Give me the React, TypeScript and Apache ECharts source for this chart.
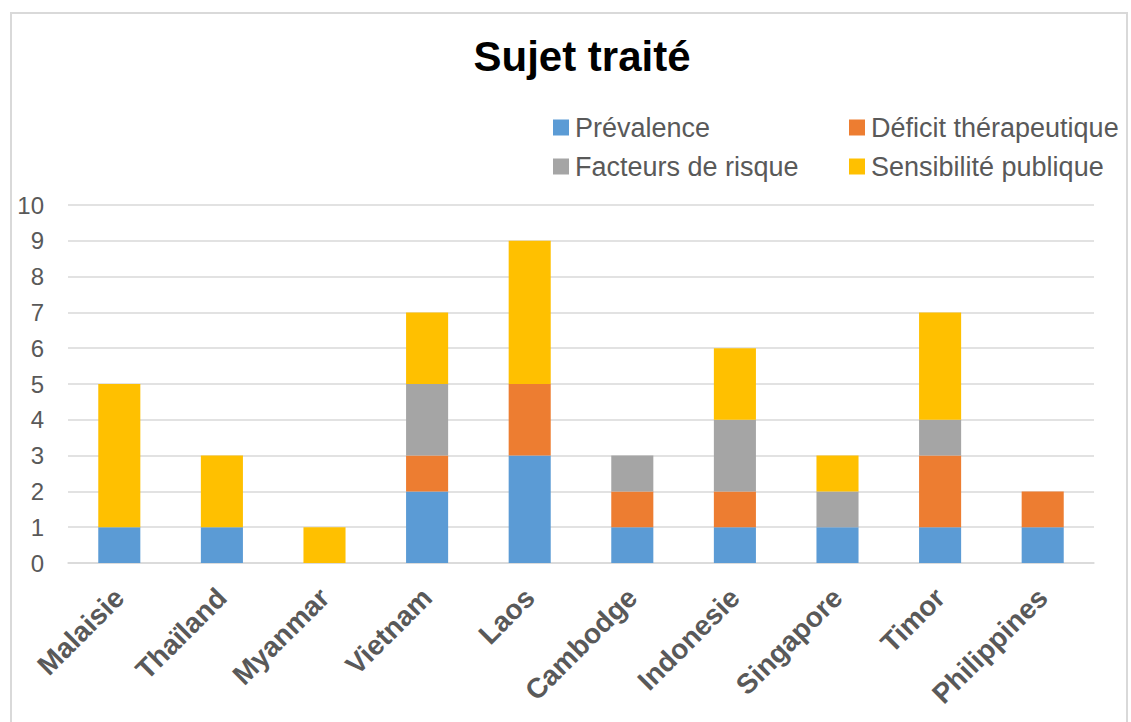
import React, { useEffect, useRef } from "react";
import * as echarts from "echarts";

const categories = ["Malaisie", "Thaïland", "Myanmar", "Vietnam", "Laos", "Cambodge", "Indonesie", "Singapore", "Timor", "Philippines"];
const prevalence = [1, 1, 0, 2, 3, 1, 1, 1, 1, 1];
const deficit = [0, 0, 0, 1, 2, 1, 1, 0, 2, 1];
const facteurs = [0, 0, 0, 2, 0, 1, 2, 1, 1, 0];
const sensibilite = [4, 2, 1, 2, 4, 0, 2, 1, 3, 0];
const seriesNames = ["Prévalence", "Déficit thérapeutique", "Facteurs de risque", "Sensibilité publique"];
const seriesColors = ["#5B9BD5", "#ED7D31", "#A5A5A5", "#FFC000"];

export default function App() {
  const ref = useRef<HTMLDivElement>(null);
  useEffect(() => {
    if (!ref.current) return;
    const chart = echarts.init(ref.current, null, { renderer: "svg" });
    const values = [prevalence, deficit, facteurs, sensibilite];
    const legendText = { color: "#595959", fontSize: 27, fontFamily: "Liberation Sans, Arial, sans-serif", lineHeight: 26, padding: [0, 0, 0, 1] };
    chart.setOption({
      animation: false,
      backgroundColor: "#ffffff",
      title: {
        text: "Sujet traité",
        left: 577,
        top: 30,
        textAlign: "center",
        textStyle: { fontSize: 42, fontWeight: "bold", color: "#000000", fontFamily: "Liberation Sans, Arial, sans-serif" },
      },
      graphic: [
        {
          type: "rect",
          shape: { x: 11, y: 13, width: 1116, height: 720 },
          style: { fill: "none", stroke: "#d9d9d9", lineWidth: 2 },
          silent: true,
        },
      ],
      legend: [
        {
          data: [seriesNames[0], seriesNames[2]],
          orient: "vertical",
          left: 553,
          top: 114,
          padding: 0,
          itemWidth: 16,
          itemHeight: 16,
          itemGap: 12,
          icon: "rect",
          textStyle: legendText,
        },
        {
          data: [seriesNames[1], seriesNames[3]],
          orient: "vertical",
          left: 849,
          top: 114,
          padding: 0,
          itemWidth: 16,
          itemHeight: 16,
          itemGap: 12,
          icon: "rect",
          textStyle: legendText,
        },
      ],
      grid: { left: 68, right: 37, top: 205, bottom: 159, containLabel: false },
      xAxis: {
        type: "category",
        data: categories,
        axisLine: { lineStyle: { color: "#d9d9d9", width: 1.5 } },
        axisTick: { show: false },
        axisLabel: {
          rotate: 45,
          interval: 0,
          margin: 30,
          color: "#595959",
          fontSize: 28,
          fontWeight: "bold",
          fontFamily: "Liberation Sans, Arial, sans-serif",
        },
      },
      yAxis: {
        type: "value",
        min: 0,
        max: 10,
        interval: 1,
        axisLine: { show: false },
        axisTick: { show: false },
        splitLine: { lineStyle: { color: "#d9d9d9", width: 1.5 } },
        axisLabel: {
          margin: 24,
          color: "#595959",
          fontSize: 24,
          fontFamily: "Liberation Sans, Arial, sans-serif",
        },
      },
      series: seriesNames.map((name, i) => ({
        name,
        type: "bar",
        stack: "total",
        barWidth: "41%",
        data: values[i],
        itemStyle: { color: seriesColors[i] },
      })),
    });
    return () => chart.dispose();
  }, []);
  return <div ref={ref} style={{ position: "absolute", left: 0, top: 0, width: 1131, height: 722 }} />;
}
